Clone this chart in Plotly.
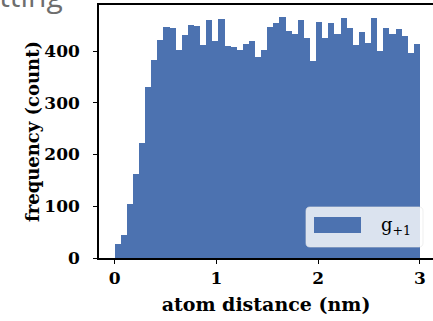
import numpy as np
import plotly.graph_objects as go

# ---- data ----
bin_start = 0.0
bin_width = 0.06
counts = [27, 45, 105, 163, 223, 330, 383, 421, 446, 444,
          402, 431, 450, 448, 411, 460, 420, 462, 410, 407,
          402, 413, 420, 389, 402, 446, 455, 466, 439, 433,
          460, 425, 380, 457, 426, 455, 433, 463, 444, 411,
          437, 415, 463, 401, 444, 433, 442, 429, 397, 413]
x_tick_vals = [0, 1, 2, 3]
y_tick_vals = [0, 100, 200, 300, 400]
series_name = "g<sub>+1</sub>"
x_title = "atom distance (nm)"
y_title = "frequency (count)"

BLUE = "#4c72b0"
FONT = "DejaVu Serif"

W, H = 433, 321
ML, MR, MT, MB = 99, 0, 5, 63

centers = bin_start + (np.arange(len(counts)) + 0.5) * bin_width

fig = go.Figure()
fig.add_trace(go.Bar(x=centers, y=counts, width=bin_width, name=series_name,
                     marker=dict(color=BLUE, line=dict(width=0)),
                     showlegend=False))

def px2paper_x(px):
    return (px - ML) / (W - ML - MR)

def px2paper_y(py):
    return (H - MB - py) / (H - MB - MT)

# manual legend (matplotlib-like frame)
lx0, lx1, ly0, ly1 = 306, 423, 207, 247
r = 4
def P(px, py):
    return f"{px2paper_x(px):.5f},{px2paper_y(py):.5f}"
path = (f"M{P(lx0 + r, ly0)} L{P(lx1 - r, ly0)} Q{P(lx1, ly0)} {P(lx1, ly0 + r)} "
        f"L{P(lx1, ly1 - r)} Q{P(lx1, ly1)} {P(lx1 - r, ly1)} "
        f"L{P(lx0 + r, ly1)} Q{P(lx0, ly1)} {P(lx0, ly1 - r)} "
        f"L{P(lx0, ly0 + r)} Q{P(lx0, ly0)} {P(lx0 + r, ly0)} Z")
fig.add_shape(type="path", path=path, xref="paper", yref="paper",
              fillcolor="rgba(255,255,255,0.8)", line=dict(width=0.8, color="rgba(230,230,230,0.8)"))
fig.add_shape(type="rect", xref="paper", yref="paper",
              x0=px2paper_x(314), x1=px2paper_x(361),
              y0=px2paper_y(233), y1=px2paper_y(217),
              fillcolor=BLUE, line=dict(width=0))
fig.add_annotation(x=px2paper_x(379), y=px2paper_y(226), xref="paper", yref="paper",
                   text=series_name, showarrow=False, xanchor="left", yanchor="middle",
                   font=dict(family=FONT, size=18, color="black"))

# cut-off caption text at top-left
fig.add_annotation(x=px2paper_x(65), y=px2paper_y(-4), xref="paper", yref="paper",
                   text="setting", showarrow=False, xanchor="right", yanchor="middle",
                   font=dict(family="Open Sans", size=30, color="#6e6e6e"))

axis_common = dict(showline=True, linecolor="black", linewidth=1.6,
                   ticks="outside", ticklen=4, tickwidth=1.4, tickcolor="black",
                   showgrid=False, zeroline=False, automargin=False,
                   tickfont=dict(family=FONT, size=17, color="black", weight="bold"))

fig.update_layout(
    width=W, height=H,
    margin=dict(l=ML, r=MR, t=MT, b=MB, autoexpand=False),
    paper_bgcolor="white", plot_bgcolor="white",
    bargap=0,
    xaxis=dict(range=[-0.153, 3.128], tickvals=x_tick_vals, mirror=True,
               title=dict(text=x_title, standoff=10,
                          font=dict(family=FONT, size=19, color="black", weight="bold")),
               **axis_common),
    yaxis=dict(range=[0, 489], tickvals=y_tick_vals,
               title=dict(text=y_title, standoff=0,
                          font=dict(family=FONT, size=18, color="black", weight="bold")),
               ticklabelstandoff=10,
               **axis_common),
)

fig.write_html("out.html", config={"displayModeBar": False},
               post_script="document.body.style.margin='0';document.body.style.overflow='hidden';")
